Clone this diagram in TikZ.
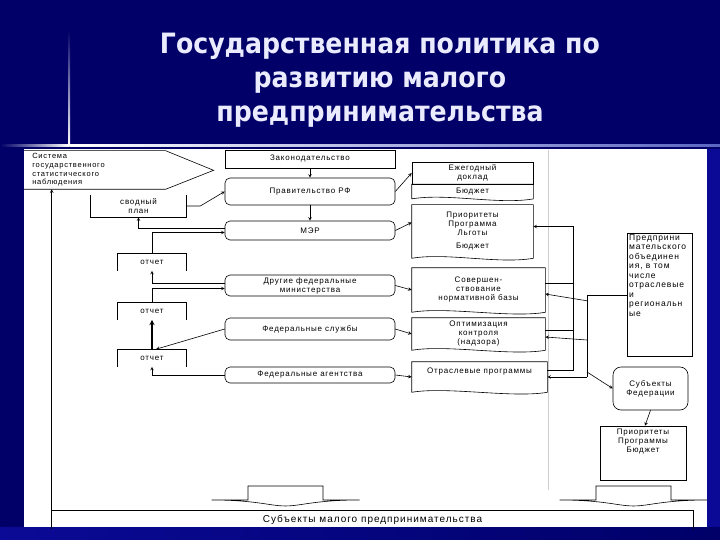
\documentclass[tikz,border=0pt]{standalone}
\usepackage{fontspec}
\setmainfont{Liberation Sans}
\newfontfamily\titlefont{DejaVu Sans Condensed}
\newfontfamily\dfont{Liberation Sans}[LetterSpace=10]
\usetikzlibrary{calc,positioning}

\definecolor{navy}{RGB}{0,0,104}
\definecolor{paleblue}{RGB}{150,170,255}
\definecolor{stripblue}{RGB}{10,10,150}

% outline of a document box with a wavy bottom
\newcommand\docframe[1]{%
  \draw[line width=0.6pt] (#1.south west) -- (#1.north west) -- (#1.north east) -- (#1.south east)
    .. controls +(-35,6) and +(35,-6) .. (#1.south west);}

\begin{document}
\begin{tikzpicture}[x=1pt, y=-1pt,
        >=stealth,
        title/.style={text=white!92!blue, align=center, font=\titlefont\bfseries\fontsize{28}{34}\selectfont},
        box/.style={
            rectangle,
            draw=black,
            line width=0.6pt,
            inner sep=1pt,
            align=center,
            font=\dfont\fontsize{8}{9}\selectfont
        },
        rbox/.style={box, rounded corners=5pt, minimum width=170},
        frame/.style={box, draw=none},
        txt/.style={inner sep=1pt, align=center, font=\dfont\fontsize{8}{9}\selectfont},
        line/.style={draw=black, line width=0.6pt},
        arrow/.style={->, line}
    ]
    \useasboundingbox (0,0) rectangle (720,540);

    % slide background
    \fill[navy] (0,0) rectangle (720,540);
    \fill[stripblue] (707,149) rectangle (720,540);
    \shade[left color=stripblue, right color=navy] (0,527) rectangle (720,540);
    \shade[top color=navy, bottom color=white] (68.4,30) rectangle (70.2,146);
    \shade[left color=navy, right color=white] (0,145) rectangle (69.3,147);
    \shade[left color=white, right color=paleblue!60!navy] (69.3,145) rectangle (720,147);
    \fill[white] (24,149) rectangle (707,527);

    \node[title] (title) at (380,80) {Государственная политика по\\развитию малого\\предпринимательства};

    \draw[gray!40] (548,150) -- (548,490);

    % left column
    \node[frame, anchor=west, minimum height=38, text width=125, inner xsep=8, align=left,
          font=\dfont\fontsize{7.5}{8.7}\selectfont] (stat) at (24,170)
          {Система\\государственного\\статистического\\наблюдения};
    \draw[line] (stat.south west) -- (stat.south east) -- ++(48,-19) -- (stat.north east) -- (stat.north west);

    \node[frame, minimum width=95, minimum height=22] (svod) at (138.5,206) {сводный\\план};
    \draw[line] (svod.north west) -- (svod.south west) -- (svod.south east) -- (svod.north east);

    \foreach \i/\y in {1/262, 2/311, 3/358} {
        \node[frame, minimum width=68, minimum height=17] (otch\i) at (152,\y) {отчет};
        \draw[line] (otch\i.south west) -- (otch\i.north west) -- (otch\i.north east) -- (otch\i.south east);
    }

    % middle column
    \node[box, minimum width=170, minimum height=18] (zak) at (310,159) {Законодательство};
    \node[rbox, minimum height=27] (prav) at (310,191.5) {Правительство РФ};
    \node[rbox, minimum height=19] (mer)  at (310,230.5) {МЭР};
    \node[rbox, minimum height=21] (drug) at (310,285.5) {Другие федеральные\\министерства};
    \node[rbox, minimum height=22] (fsl)  at (310,329)   {Федеральные службы};
    \node[rbox, minimum height=16] (fag)  at (310,375)   {Федеральные агентства};

    % documents
    \node[box, minimum width=121, minimum height=22] (ezh) at (472.5,173) {Ежегодный\\доклад};
    \node[frame, minimum width=121, minimum height=14, below=0pt of ezh] (ezhb) {Бюджет};
    \node[frame, minimum width=121, minimum height=53] (prio1) at (472.5,231.5) {Приоритеты\\Программа\\Льготы\\[4pt]Бюджет};
    \node[frame, minimum width=133, minimum height=44] (sover) at (478.5,290) {Совершен-\\ствование\\нормативной базы};
    \node[frame, minimum width=133, minimum height=32] (optim) at (478.5,334) {Оптимизация\\контроля\\(надзора)};
    \node[frame, minimum width=135, minimum height=30, text depth=12pt] (otrasl) at (479.5,377) {Отраслевые программы};
    \docframe{ezhb}
    \docframe{prio1}
    \docframe{sover}
    \docframe{optim}
    \docframe{otrasl}

    % right column
    \node[box, minimum width=65, minimum height=123, anchor=north west] (pred) at (627,233) {};
    \node[txt, anchor=north west, align=left, font=\dfont\fontsize{8.5}{9.5}\selectfont] (predtxt) at ([xshift=1pt]pred.north west)
        {Предприни\\мательского\\объединен\\ия, в том\\числе\\отраслевые\\и\\региональн\\ые};
    \node[rbox, minimum width=75, minimum height=43, rounded corners=8pt] (subf) at (650.5,388.5) {Субъекты\\Федерации};
    \node[box, minimum width=86, minimum height=54] (prio2) at (643,453) {};
    \node[txt, anchor=north] (prio2txt) at ([yshift=-2pt]prio2.north) {Приоритеты\\Программы\\Бюджет};

    % bottom
    \node[frame, minimum width=641, minimum height=18, font=\dfont\fontsize{10}{12}\selectfont] (subm) at (372.5,519.5)
        {Субъекты малого предпринимательства};
    \draw[line] (subm.south west) -- (subm.north west) -- (subm.north east) -- (subm.south east);
    \foreach \cx in {285.5, 633.5}
        \draw[line, fill=white] (\cx-37.5,500) -- (\cx-37.5,486) -- (\cx+37.5,486) -- (\cx+37.5,500) -- (\cx+74,500)
            .. controls (\cx+30,500) and (\cx+15,506) .. (\cx,506)
            .. controls (\cx-15,506) and (\cx-30,500) .. (\cx-74,500) -- cycle;

    % connectors, middle
    \draw[arrow] (zak) -- (prav);
    \draw[arrow] (prav) -- (mer);
    \draw[arrow] (prav.east) -- (ezh.west);
    \draw[arrow] (mer.east) -- ([yshift=9pt]prio1.west);
    \draw[arrow] (drug.east) -- (sover.west);
    \draw[arrow] (fsl.east) -- (optim.west);
    \draw[arrow] (fag.east) -- (otrasl.west);

    % connectors, left
    \draw[arrow] (subm.north west) -- (stat.south -| subm.north west);
    \draw[arrow] (svod.east) -- ++(14,0) -- (prav.west);
    \draw[arrow] ([yshift=2pt]mer.west) -| (svod.south);
    \draw[arrow] (otch1.north) |- ([yshift=-2pt]mer.west);
    \draw[arrow] ([yshift=2pt]drug.west) -| (otch1.south);
    \draw[arrow] (otch2.north) |- ([yshift=-3pt]drug.west);
    \draw[arrow, line width=1.4pt] (otch3) -- (otch2);
    \draw[arrow] (fsl.west) -- ([xshift=4pt]otch3.north);
    \draw[arrow] (fag.west) -| (otch3.south);

    % connectors, right
    \coordinate (busa) at (573,0);
    \coordinate (busb) at (587,0);
    \draw[arrow] ([yshift=7pt]otrasl.east) -- ([yshift=7pt]otrasl.east -| busa)
        -- ([yshift=5pt]prio1.east -| busa) -- ([yshift=5pt]prio1.east);
    \draw[line] ([yshift=7pt]sover.east) -- ([yshift=7pt]sover.east -| busa);
    \draw[line] ([yshift=4pt]optim.east) -- ([yshift=4pt]optim.east -| busa);
    \draw[line] (pred.west) -| (busb |- otrasl.east);
    \draw[arrow] ($(busb |- pred.west)+(0,6)$) -- ([yshift=-4pt]sover.east);
    \draw[arrow] ($(busb |- optim.east)+(0,6)$) -- ([yshift=-3pt]optim.east);
    \draw[arrow] (busb |- otrasl.east) -- (otrasl.east);
    \draw[arrow] ($(busb |- otrasl.east)+(0,-5)$) -- (subf.west);
    \draw[arrow] (subf.south) -- ([xshift=2pt]prio2.north);

\end{tikzpicture}
\end{document}
